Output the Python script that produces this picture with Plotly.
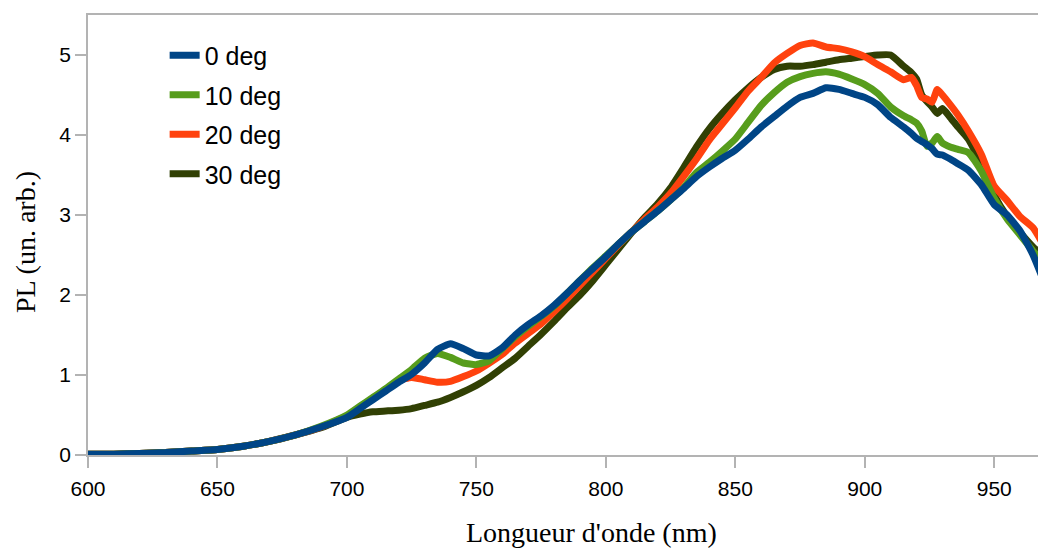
import plotly.graph_objects as go

wavelength = [600, 610, 620, 630, 640, 650, 660, 670, 680, 690, 700, 705, 710, 715, 720,
              725, 730, 735, 740, 745, 750, 755, 760, 765, 770, 775, 780, 785, 790, 795,
              800, 805, 810, 815, 820, 825, 830, 835, 840, 845, 850, 855, 860, 865, 870,
              875, 880, 885, 890, 895, 900, 905, 910, 915, 918, 920, 922, 924, 926, 928,
              930, 933, 936, 940, 945, 950, 955, 960, 965, 970]

pl_0deg = [0.01, 0.01, 0.02, 0.03, 0.05, 0.07, 0.11, 0.17, 0.25, 0.35, 0.47, 0.58, 0.69, 0.80, 0.91,
           1.01, 1.15, 1.32, 1.39, 1.33, 1.25, 1.24, 1.34, 1.50, 1.63, 1.74, 1.87, 2.02, 2.18, 2.33,
           2.48, 2.64, 2.79, 2.92, 3.05, 3.19, 3.33, 3.48, 3.60, 3.71, 3.81, 3.95, 4.10, 4.23, 4.36,
           4.47, 4.52, 4.59, 4.57, 4.52, 4.47, 4.38, 4.22, 4.10, 4.02, 3.96, 3.92, 3.88, 3.83, 3.76,
           3.75, 3.70, 3.64, 3.56, 3.38, 3.13, 3.00, 2.80, 2.50, 2.10]

pl_10deg = [0.01, 0.01, 0.02, 0.03, 0.05, 0.07, 0.11, 0.17, 0.25, 0.36, 0.50, 0.61, 0.72, 0.83, 0.95,
            1.07, 1.21, 1.27, 1.22, 1.15, 1.13, 1.18, 1.33, 1.48, 1.61, 1.73, 1.86, 2.02, 2.18, 2.34,
            2.49, 2.64, 2.79, 2.92, 3.05, 3.19, 3.34, 3.53, 3.66, 3.80, 3.95, 4.16, 4.37, 4.53, 4.66,
            4.73, 4.77, 4.79, 4.76, 4.70, 4.63, 4.52, 4.35, 4.24, 4.19, 4.15, 4.05, 3.86, 3.90, 3.98,
            3.90, 3.85, 3.82, 3.78, 3.55, 3.21, 2.95, 2.75, 2.55, 2.38]

pl_20deg = [0.01, 0.01, 0.02, 0.03, 0.05, 0.07, 0.11, 0.17, 0.25, 0.35, 0.49, 0.60, 0.71, 0.82, 0.93,
            0.97, 0.94, 0.91, 0.92, 0.98, 1.05, 1.15, 1.26, 1.40, 1.52, 1.64, 1.79, 1.95, 2.12, 2.29,
            2.46, 2.63, 2.79, 2.95, 3.10, 3.27, 3.48, 3.70, 3.94, 4.14, 4.34, 4.55, 4.72, 4.90, 5.02,
            5.12, 5.15, 5.10, 5.08, 5.04, 4.98, 4.88, 4.79, 4.69, 4.72, 4.62, 4.47, 4.45, 4.41, 4.57,
            4.50, 4.38, 4.25, 4.05, 3.76, 3.36, 3.18, 2.98, 2.84, 2.57]

pl_30deg = [0.01, 0.01, 0.02, 0.03, 0.05, 0.07, 0.11, 0.17, 0.25, 0.34, 0.47, 0.51, 0.54, 0.55, 0.56,
            0.58, 0.62, 0.66, 0.72, 0.79, 0.87, 0.97, 1.09, 1.21, 1.36, 1.51, 1.67, 1.84, 2.00, 2.18,
            2.38, 2.58, 2.78, 2.97, 3.14, 3.34, 3.59, 3.85, 4.08, 4.27, 4.44, 4.59, 4.72, 4.82, 4.86,
            4.86, 4.88, 4.91, 4.94, 4.96, 4.98, 5.00, 5.00, 4.86, 4.78, 4.70, 4.50, 4.42, 4.35, 4.27,
            4.33, 4.22, 4.10, 3.95, 3.63, 3.25, 2.98, 2.78, 2.60, 2.46]

series_names = ["0 deg", "10 deg", "20 deg", "30 deg"]
series_values = [pl_0deg, pl_10deg, pl_20deg, pl_30deg]
series_colors = ["#004586", "#579d1c", "#ff420e", "#314004"]

x_ticks = [600, 650, 700, 750, 800, 850, 900, 950]
y_ticks = [0, 1, 2, 3, 4, 5]

fig = go.Figure()
# draw last series first so that "0 deg" sits on top; legendrank keeps legend order
items = list(enumerate(zip(series_names, series_values, series_colors)))
for rank, (name, vals, col) in reversed(items):
    fig.add_trace(go.Scatter(x=wavelength, y=vals, mode="lines", name=name,
                             legendgroup=name, legendrank=rank + 1,
                             line=dict(color=col, width=7, shape="spline", smoothing=0.5)))

axis_color = "#b3b3b3"
serif = "Liberation Serif, Times New Roman, serif"
fig.update_layout(
    width=1038, height=541,
    margin=dict(l=80, r=0, t=7, b=94),
    paper_bgcolor="white", plot_bgcolor="white",
    font=dict(family="Liberation Sans, Arial, sans-serif", color="black"),
    showlegend=True,
    legend=dict(x=0.08, y=0.96, xanchor="left", yanchor="top",
                traceorder="grouped", tracegroupgap=4,
                itemwidth=30,
                font=dict(size=25, family="Liberation Sans, Arial, sans-serif"),
                bgcolor="rgba(0,0,0,0)"),
    xaxis=dict(range=[600, 970], tickvals=x_ticks, showgrid=False, zeroline=False,
               showline=True, linecolor=axis_color, linewidth=1.5, mirror=True,
               ticks="outside", ticklen=11, tickcolor=axis_color, tickwidth=1.5,
               tickfont=dict(size=21), ticklabelstandoff=3),
    yaxis=dict(range=[0, 5.5], tickvals=y_ticks, showgrid=False, zeroline=False,
               showline=True, linecolor=axis_color, linewidth=1.5, mirror=False,
               ticks="outside", ticklen=11, tickcolor=axis_color, tickwidth=1.5,
               tickfont=dict(size=21), ticklabelstandoff=0),
    annotations=[
        dict(text="Longueur d'onde (nm)", xref="paper", yref="paper",
             x=0.526, y=0, xanchor="center", yanchor="middle", yshift=-77,
             showarrow=False, font=dict(size=28, family=serif)),
        dict(text="PL (un. arb.)", xref="paper", yref="paper", textangle=-90,
             x=0, y=0.484, xanchor="center", yanchor="middle", xshift=-63,
             showarrow=False, font=dict(size=28, family=serif)),
    ],
)

fig.write_html("out.html")
